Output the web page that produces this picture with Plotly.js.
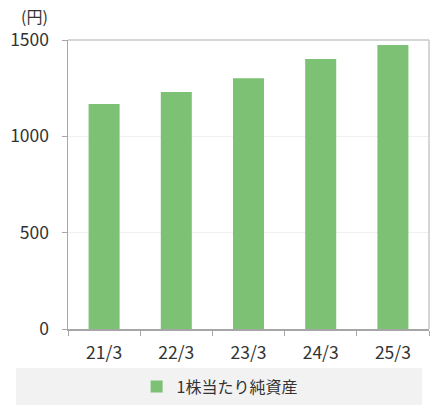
<!DOCTYPE html>
<html>
<head>
<meta charset="utf-8">
<script src="https://cdn.plot.ly/plotly-3.0.1.min.js"></script>
<style>
  html, body { margin: 0; padding: 0; background: #fff; }
  #chart { width: 437px; height: 418px; }
</style>
</head>
<body>
<div id="chart"></div>
<script>
// 1株当たり純資産 (円)
var periods = ['21/3', '22/3', '23/3', '24/3', '25/3'];
var bpsValues = [1168, 1230, 1302, 1401, 1474];
var yTicks = [0, 500, 1000, 1500];
var seriesName = '1株当たり純資産';
var unitLabel = '(円)';

var barColor = '#7dc274';
var fontFam = '"Noto Sans CJK JP", "Noto Sans", sans-serif';

var data = [
    {
        x: periods,
        y: bpsValues,
        type: 'bar',
        name: seriesName,
        marker: { color: barColor },
        width: 0.43,
        showlegend: true,
        hoverinfo: 'x+y'
    }
];

var layout = {
    width: 437,
    height: 418,
    margin: { l: 68, r: 8, t: 40, b: 89 },
    paper_bgcolor: '#fff',
    plot_bgcolor: '#fff',
    font: { family: fontFam, size: 16, color: '#333333' },
    xaxis: {
        type: 'category',
        tickson: 'boundaries',
        ticks: 'outside',
        ticklen: 5,
        tickcolor: '#a6a6a6',
        showline: true,
        linecolor: '#a6a6a6',
        linewidth: 1.5,
        showgrid: false,
        ticklabelstandoff: 7,
        tickfont: { size: 17.5 }
    },
    yaxis: {
        range: [0, 1500],
        tickvals: yTicks,
        ticks: 'outside',
        ticklen: 5,
        tickcolor: '#a6a6a6',
        showline: true,
        linecolor: '#a6a6a6',
        linewidth: 1.5,
        showgrid: true,
        gridcolor: '#efefef',
        zeroline: false,
        ticklabelstandoff: 9,
        tickfont: { size: 17.5 }
    },
    shapes: [
        // legend background
        { type: 'rect', xref: 'paper', yref: 'paper', x0: -0.144, x1: 0.981, y0: -0.135, y1: -0.263,
          fillcolor: '#f2f2f2', line: { width: 0 }, layer: 'below' },
        // top and right frame
        { type: 'line', xref: 'paper', yref: 'paper', x0: 0, x1: 1, y0: 1, y1: 1,
          line: { color: '#c8c8c8', width: 1.5 } },
        { type: 'line', xref: 'paper', yref: 'paper', x0: 1, x1: 1, y0: 0, y1: 1,
          line: { color: '#c8c8c8', width: 1.5 } }
    ],
    annotations: [
        { text: unitLabel, xref: 'paper', yref: 'paper', x: -0.093, y: 1.083,
          xanchor: 'center', yanchor: 'middle', showarrow: false,
          font: { size: 16, color: '#333333' } }
    ],
    legend: {
        orientation: 'h',
        x: 0.42,
        xanchor: 'center',
        y: -0.199,
        yanchor: 'middle',
        bgcolor: 'rgba(0,0,0,0)',
        font: { size: 16, color: '#333333' },
        itemwidth: 30
    },
    bargap: 0.57
};

Plotly.newPlot('chart', data, layout, { displayModeBar: false, staticPlot: true });
</script>
</body>
</html>
